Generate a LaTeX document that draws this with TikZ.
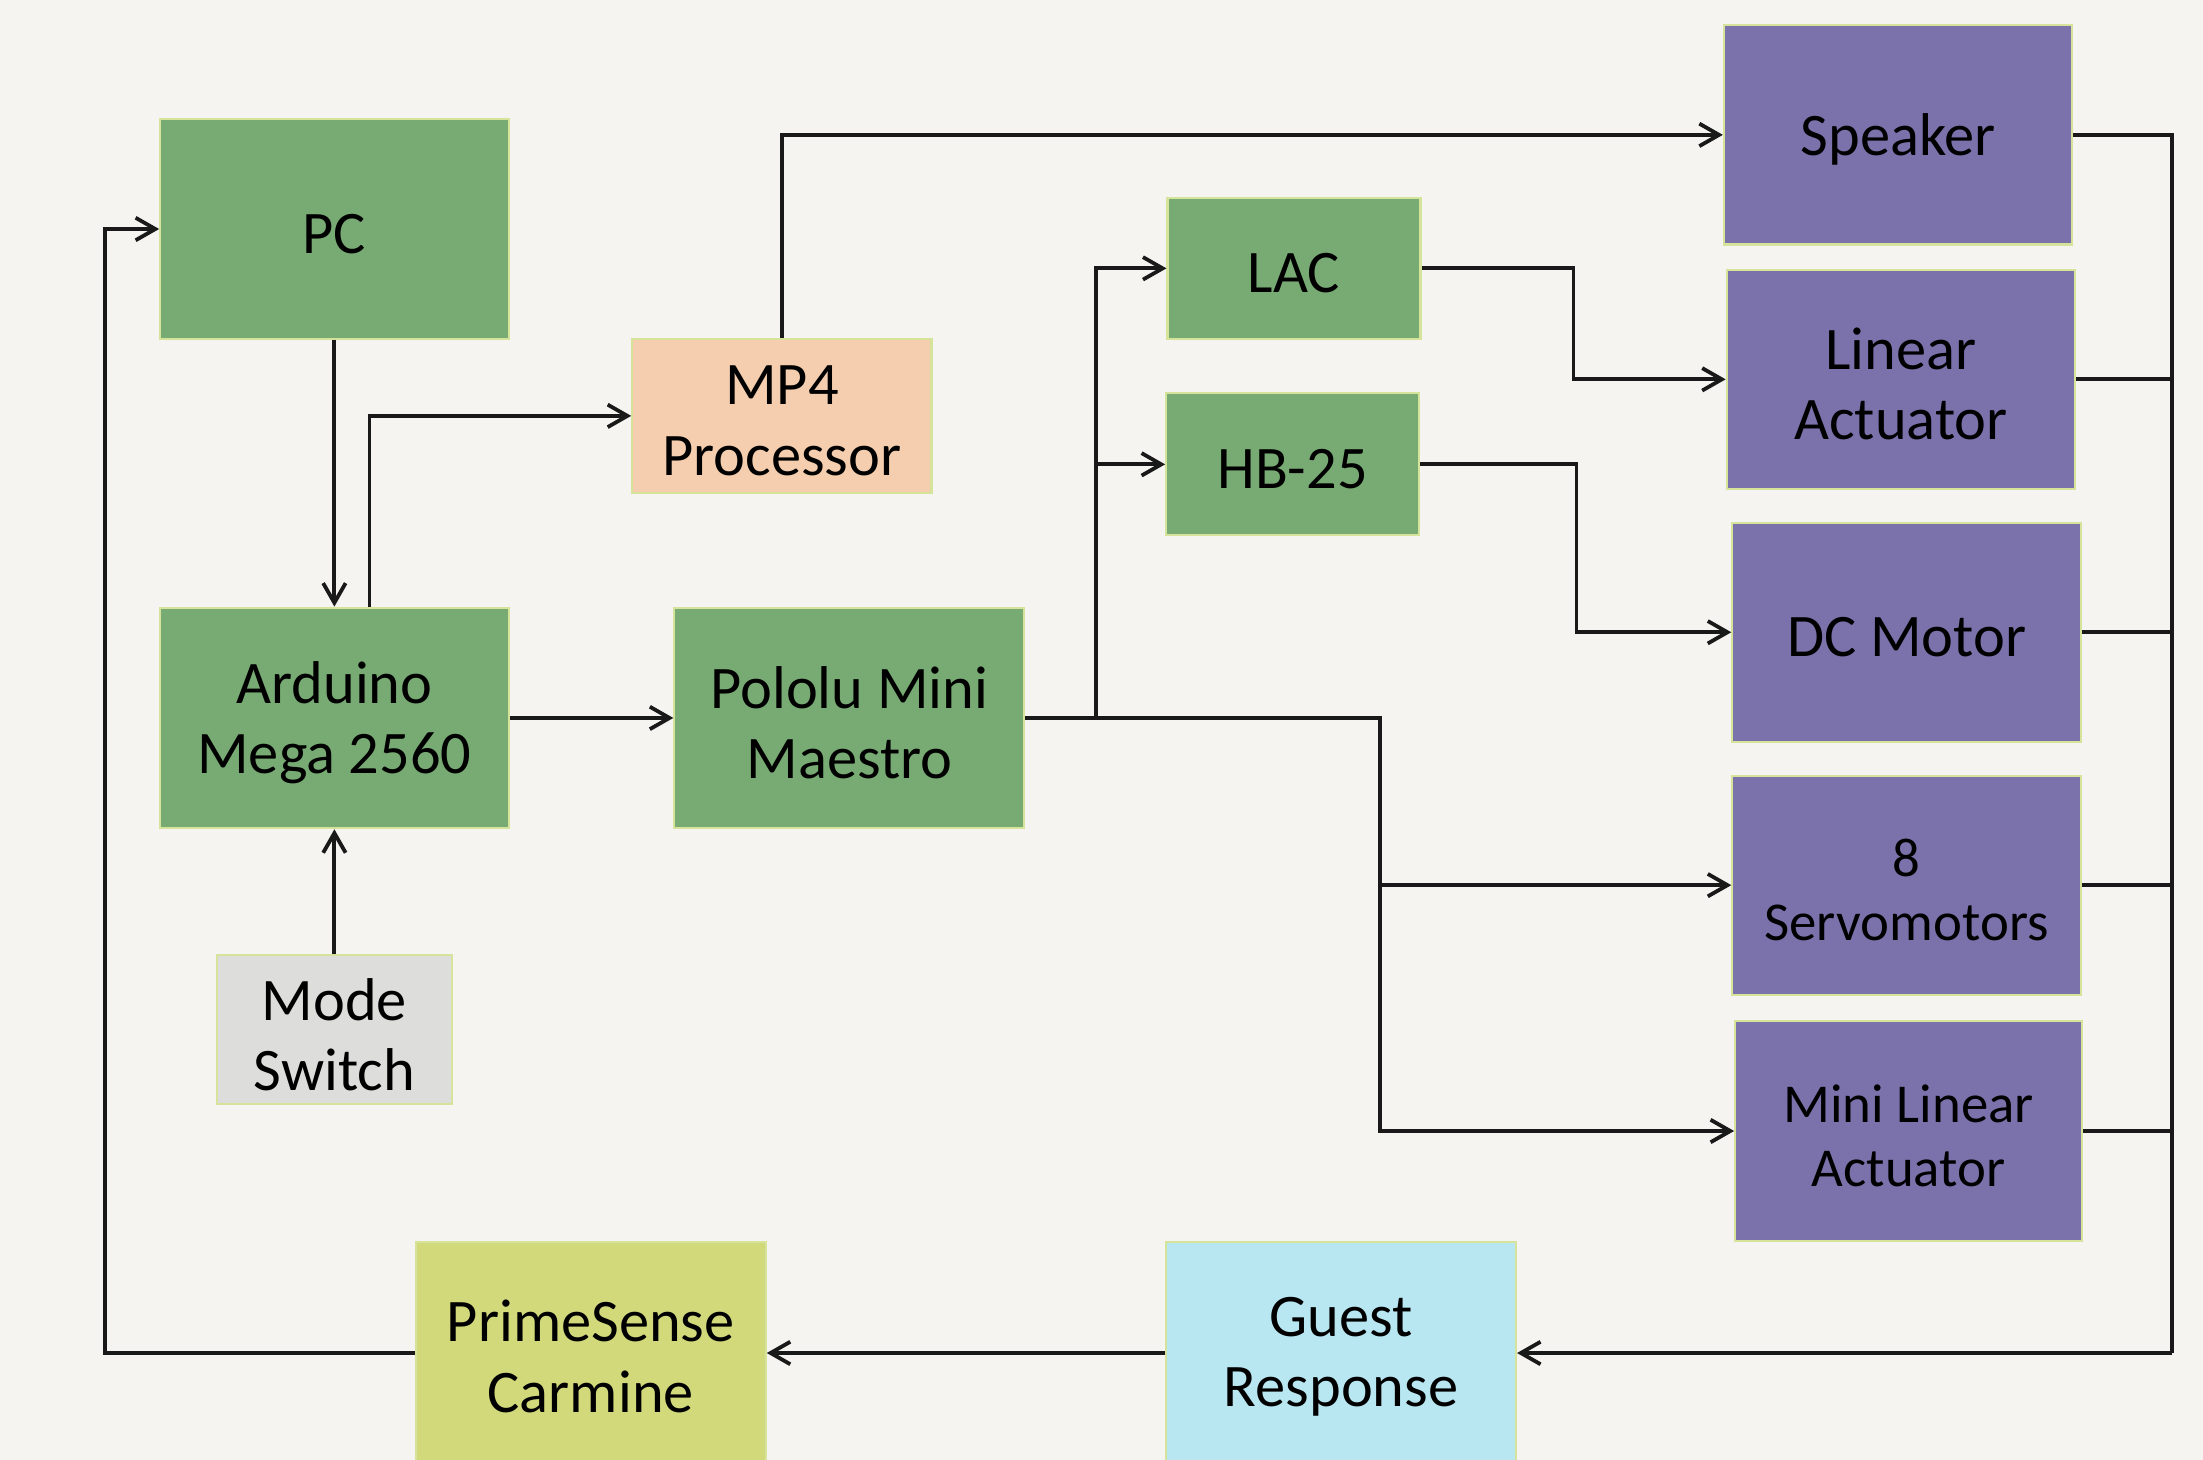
\documentclass[tikz,border=0pt]{standalone}
\usepackage{fontspec}
\setmainfont{Carlito}
\usetikzlibrary{arrows.meta}
\definecolor{bgc}{HTML}{F5F4F0}
\definecolor{grn}{HTML}{78AB74}
\definecolor{pur}{HTML}{7B72AC}
\definecolor{peach}{HTML}{F4CEAE}
\definecolor{grey}{HTML}{DDDDDB}
\definecolor{lime}{HTML}{D2D97B}
\definecolor{cyanb}{HTML}{B8E7F2}
\definecolor{edge}{HTML}{D6E39A}
\tikzset{
  box/.style={draw=edge, line width=1.5pt, inner sep=0pt},
  lbl/.style={align=center, inner sep=0pt, yshift=-3.5pt,
    font=\fontsize{43}{50}\selectfont},
  slbl/.style={lbl, font=\fontsize{39}{45}\selectfont},
  wire/.style={draw=black!90, line width=2.7pt},
  arr/.style={wire, -{Straight Barb[length=14pt,width=16pt,line width=2.7pt]}},
}
\begin{document}
\begin{tikzpicture}[x=1pt,y=-1pt]
\fill[bgc] (0,0) rectangle (1568,1039);
\useasboundingbox (0,0) rectangle (1568,1039);

\node[box, fill=grn, minimum width=248pt, minimum height=156pt, label={[lbl]center:PC}] (pc) at (238,163) {};
\node[box, fill=peach, minimum width=213pt, minimum height=110pt, label={[lbl]center:MP4\\Processor}] (mp4) at (556.5,296) {};
\node[box, fill=grn, minimum width=248pt, minimum height=157pt, label={[lbl]center:Arduino\\Mega 2560}] (ard) at (238,511) {};
\node[box, fill=grn, minimum width=249pt, minimum height=157pt, label={[lbl]center:Pololu Mini\\Maestro}] (pol) at (604.5,511) {};
\node[box, fill=grey, minimum width=167pt, minimum height=106pt, label={[lbl]center:Mode\\Switch}] (mode) at (238,733) {};
\node[box, fill=grn, minimum width=180pt, minimum height=100pt, label={[lbl]center:LAC}] (lac) at (921,191) {};
\node[box, fill=grn, minimum width=180pt, minimum height=101pt, label={[lbl]center:HB-25}] (hb) at (920,330.5) {};
\node[box, fill=pur, minimum width=248pt, minimum height=156pt, label={[lbl]center:Speaker}] (spk) at (1351,96) {};
\node[box, fill=pur, minimum width=248pt, minimum height=156pt, label={[lbl]center:Linear\\Actuator}] (lin) at (1353,270) {};
\node[box, fill=pur, minimum width=248pt, minimum height=156pt, label={[lbl]center:DC Motor}] (dc) at (1357,450) {};
\node[box, fill=pur, minimum width=248pt, minimum height=156pt, label={[slbl]center:8\\Servomotors}] (servo) at (1357,630) {};
\node[box, fill=pur, minimum width=247pt, minimum height=156pt, label={[slbl]center:Mini Linear\\Actuator}] (mini) at (1358.5,805) {};
\node[box, fill=lime, minimum width=249pt, minimum height=156pt, label={[lbl]center:PrimeSense\\Carmine}] (prime) at (420.5,962) {};
\node[box, fill=cyanb, minimum width=249pt, minimum height=156pt, label={[lbl]center:Guest\\Response}] (guest) at (954.5,962) {};

\coordinate (j1) at (780,511);
\coordinate (j2) at (982,511);
\coordinate (j3) at (1120,191);
\coordinate (j4) at (1122,330.5);
\coordinate (bus) at (1546,96);
\coordinate (busb) at (1546,963);
\coordinate (left) at (75,963);

\draw[arr] (pc.south) -- (ard.north);
\draw[arr] ([xshift=25pt]ard.north) |- (mp4.west);
\draw[arr] (mp4.north) |- (spk.west);
\draw[arr] (ard.east) -- (pol.west);
\draw[arr] (mode.north) -- (ard.south);
\draw[arr] (pol.east) -- (j1) |- (lac.west);
\draw[arr] (j1) |- (hb.west);
\draw[arr] (pol.east) -- (j2) |- (servo.west);
\draw[arr] (j2) |- (mini.west);
\draw[arr] (lac.east) -- (j3) |- (lin.west);
\draw[arr] (hb.east) -- (j4) |- (dc.west);
\draw[wire] (spk.east) -- (bus) -- (busb);
\draw[wire] (lin.east) -- (lin.east -| bus);
\draw[wire] (dc.east) -- (dc.east -| bus);
\draw[wire] (servo.east) -- (servo.east -| bus);
\draw[wire] (mini.east) -- (mini.east -| bus);
\draw[arr] (busb) -- (busb -| guest.east);
\draw[arr] (guest.west |- busb) -- (prime.east |- busb);
\draw[arr] (prime.west |- busb) -- (left) |- (pc.west);
\end{tikzpicture}
\end{document}
